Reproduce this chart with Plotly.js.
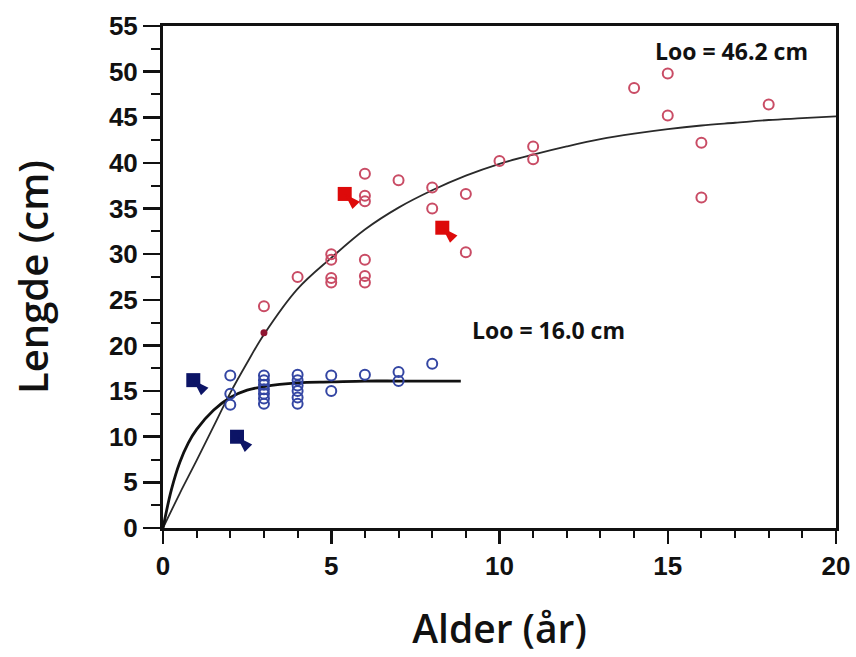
<!DOCTYPE html>
<html>
<head>
<meta charset="utf-8">
<script src="https://cdn.plot.ly/plotly-3.0.1.min.js"></script>
<style>html,body{margin:0;padding:0;background:#fff;}#chart{width:856px;height:657px;}</style>
</head>
<body>
<div id="chart"></div>
<script>
// Large fish (red) observations: age (years), length (cm)
const redAge = [3, 4, 5, 5, 5, 5, 6, 6, 6, 6, 6, 6, 7, 8, 8, 9, 9, 10, 11, 11, 14, 15, 15, 16, 16, 18];
const redLen = [24.3, 27.5, 30.0, 29.4, 27.4, 26.9, 38.8, 36.4, 35.8, 29.4, 27.6, 26.9, 38.1, 37.3, 35.0, 36.6, 30.2, 40.2, 41.8, 40.4, 48.2, 49.8, 45.2, 42.2, 36.2, 46.4];
// small filled red point on the curve
const redDotAge = [3];
const redDotLen = [21.4];

// Small fish (blue) observations
const blueAge = [2, 2, 2, 3, 3, 3, 3, 3, 3, 3, 4, 4, 4, 4, 4, 4, 5, 5, 6, 7, 7, 8];
const blueLen = [16.7, 14.7, 13.5, 16.7, 16.2, 15.7, 15.2, 14.7, 14.2, 13.6, 16.8, 16.2, 15.6, 15.0, 14.3, 13.6, 16.7, 15.0, 16.8, 17.1, 16.1, 18.0];

// Arrow markers
const redArrowAge = [5.4, 8.3];
const redArrowLen = [36.6, 32.9];
const blueArrowAge = [0.9, 2.2];
const blueArrowLen = [16.2, 10.0];

// Growth curves
const redCurveAge = [0, 0.5, 1, 1.5, 2, 2.5, 3, 4, 5, 6, 7, 8, 9, 10, 11, 12, 13, 14, 15, 16, 17, 18, 19, 20];
const redCurveLen = [0, 3.8, 7.4, 11.1, 14.8, 18.1, 21.2, 26.2, 29.6, 32.7, 35.1, 37.0, 38.6, 39.9, 40.9, 41.8, 42.6, 43.2, 43.7, 44.1, 44.4, 44.7, 44.9, 45.1];
const blueCurveAge = [0, 0.25, 0.5, 0.75, 1, 1.5, 2, 2.5, 3, 4, 5, 6, 7, 8, 8.85];
const blueCurveLen = [0, 4.2, 7.2, 9.3, 10.8, 12.9, 14.3, 15.1, 15.5, 15.9, 16.0, 16.1, 16.1, 16.1, 16.1];

const labelTexts = ['Loo = 46.2 cm', 'Loo = 16.0 cm'];
const labelAge = [16.9, 11.45];
const labelLen = [52.3, 21.7];

const traces = [
  {x: redCurveAge, y: redCurveLen, mode: 'lines', line: {color: '#2a2a2a', width: 1.8, shape: 'spline'}, hoverinfo: 'skip'},
  {x: blueCurveAge, y: blueCurveLen, mode: 'lines', line: {color: '#111', width: 2.8, shape: 'spline'}, hoverinfo: 'skip'},
  {x: redAge, y: redLen, mode: 'markers', marker: {symbol: 'circle-open', size: 10, color: '#c94c65', line: {width: 2, color: '#c94c65'}}},
  {x: redDotAge, y: redDotLen, mode: 'markers', marker: {symbol: 'circle', size: 7, color: '#8e1530'}},
  {x: blueAge, y: blueLen, mode: 'markers', marker: {symbol: 'circle-open', size: 10, color: '#3446a3', line: {width: 2, color: '#3446a3'}}},
  {x: redArrowAge, y: redArrowLen, mode: 'markers', marker: {symbol: 'square', size: 14, color: '#dd0a0a'}},
  {x: redArrowAge, y: redArrowLen, mode: 'markers', marker: {symbol: 'arrow', size: 17, angle: -45, color: '#dd0a0a'}},
  {x: blueArrowAge, y: blueArrowLen, mode: 'markers', marker: {symbol: 'square', size: 14, color: '#0c1466'}},
  {x: blueArrowAge, y: blueArrowLen, mode: 'markers', marker: {symbol: 'arrow', size: 17, angle: -45, color: '#0c1466'}}
];

const annotations = labelTexts.map((t, i) => ({
  x: labelAge[i], y: labelLen[i], xref: 'x', yref: 'y', text: t, showarrow: false,
  font: {family: 'Open Sans, sans-serif', size: 23, color: '#111', weight: 700}
}));

const layout = {
  width: 856, height: 657,
  margin: {l: 163, r: 20, t: 26, b: 129},
  paper_bgcolor: '#fff', plot_bgcolor: '#fff',
  showlegend: false,
  xaxis: {
    range: [0, 20], tickvals: [0, 5, 10, 15, 20],
    showgrid: false, zeroline: false,
    showline: true, linecolor: '#111', linewidth: 3, mirror: true,
    ticks: 'outside', ticklen: 13, tickwidth: 2.5, tickcolor: '#111',
    minor: {dtick: 1, ticks: 'outside', ticklen: 7, tickwidth: 2, tickcolor: '#111', showgrid: false},
    tickfont: {family: 'Liberation Sans, Arial, sans-serif', size: 26, color: '#111', weight: 'bold'},
    title: {text: 'Alder (år)', font: {family: 'Open Sans, sans-serif', size: 39, color: '#111', weight: 600}, standoff: 36}
  },
  yaxis: {
    range: [0, 55], tickvals: [0, 5, 10, 15, 20, 25, 30, 35, 40, 45, 50, 55],
    showgrid: false, zeroline: false,
    showline: true, linecolor: '#111', linewidth: 3, mirror: true,
    ticks: 'outside', ticklen: 17, tickwidth: 2.5, tickcolor: '#111',
    minor: {dtick: 2.5, ticks: 'outside', ticklen: 9, tickwidth: 2, tickcolor: '#111', showgrid: false},
    tickfont: {family: 'Liberation Sans, Arial, sans-serif', size: 26, color: '#111', weight: 'bold'},
    title: {text: 'Lengde (cm)', font: {family: 'Open Sans, sans-serif', size: 40, color: '#111', weight: 600}, standoff: 48}
  },
  annotations: annotations
};

Plotly.newPlot('chart', traces, layout, {staticPlot: true, displayModeBar: false});
</script>
</body>
</html>
